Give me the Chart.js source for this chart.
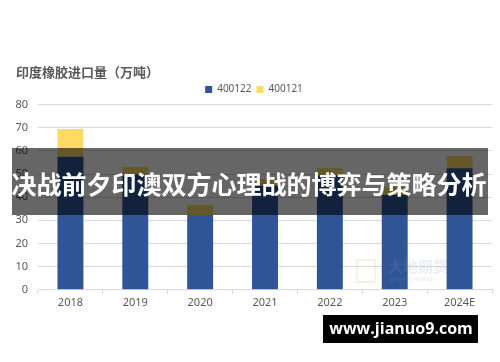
<!DOCTYPE html>
<html>
<head>
<meta charset="utf-8">
<script src="https://cdn.jsdelivr.net/npm/chart.js@4"></script>
<style>
    html, body { margin: 0; padding: 0; background: #fff; }
    #wrap { width: 500px; height: 362px; position: relative; }
</style>
</head>
<body>
<div id="wrap"><canvas id="importChart"></canvas></div>
<script>
/* DATA */
const years = ["2018", "2019", "2020", "2021", "2022", "2023", "2024E"];
const series400122 = [57.5, 50, 32.3, 45, 49.5, 41, 52.5];
const series400121 = [12, 3, 4.3, 3, 3, 3.5, 5.3];
const yTicks = [0, 10, 20, 30, 40, 50, 60, 70, 80];

const bannerText = "决战前夕印澳双方心理战的博弈与策略分析";
const siteText = "www.jianuo9.com";

Chart.defaults.font.family = "'Noto Sans', 'Noto Sans CJK SC', sans-serif";
Chart.defaults.color = "#595959";

/* OVERLAYS: faint logo, banner, site mark */
const overlays = {
    id: "overlays",
    afterDraw(chart) {
        const ctx = chart.ctx;
        ctx.save();

        // faint logo watermark
        ctx.globalAlpha = 0.18;
        ctx.fillStyle = "#8a9bb5";
        ctx.font = "bold 15px 'Noto Sans CJK SC'";
        ctx.textBaseline = "middle";
        ctx.fillText("大地期货", 388, 266);
        ctx.font = "bold 6px 'Noto Sans'";
        ctx.fillText("DADI FUTURES", 390, 279);
        ctx.strokeStyle = "#e0b050";
        ctx.lineWidth = 2;
        ctx.strokeRect(357, 260, 18, 22);
        ctx.globalAlpha = 1;

        // dark banner
        ctx.fillStyle = "rgba(0,0,0,0.6)";
        ctx.fillRect(12, 148, 476, 67);
        ctx.fillStyle = "#fff";
        ctx.font = "bold 25px 'Noto Sans CJK SC'";
        ctx.textAlign = "center";
        ctx.textBaseline = "middle";
        ctx.fillText(bannerText, 249, 184);

        // site mark
        ctx.fillStyle = "#000";
        ctx.fillRect(323, 315, 155, 28);
        ctx.fillStyle = "#fff";
        ctx.font = "bold 16px 'Open Sans'";
        ctx.fillText(siteText, 401, 329);

        ctx.restore();
    }
};

new Chart(document.getElementById("importChart"), {
    type: "bar",
    data: {
        labels: years,
        datasets: [{
            label: "400122",
            data: series400122,
            backgroundColor: "#2F5597"
        }, {
            label: "400121",
            data: series400121,
            backgroundColor: "#FFD966"
        }]
    },
    options: {
        responsive: true,
        maintainAspectRatio: false,
        animation: false,
        layout: {
            padding: { top: 64, left: 16, right: 8, bottom: 51 }
        },
        datasets: {
            bar: { categoryPercentage: 0.8, barPercentage: 0.5 }
        },
        scales: {
            x: {
                stacked: true,
                grid: { display: true, drawOnChartArea: false, offset: true, tickLength: 4, color: "#d9d9d9" },
                border: { color: "#d9d9d9" },
                ticks: { font: { size: 11 }, color: "#595959", padding: 2 }
            },
            y: {
                stacked: true,
                min: 0,
                max: 80,
                afterBuildTicks(axis) {
                    axis.ticks = yTicks.map(v => ({ value: v }));
                },
                afterFit(axis) {
                    axis.width = 22;
                },
                grid: { color: "#d9d9d9", drawTicks: false },
                border: { display: false },
                ticks: { font: { size: 11 }, color: "#595959", padding: 10 }
            }
        },
        plugins: {
            title: {
                display: true,
                text: "印度橡胶进口量（万吨）",
                align: "start",
                color: "#595959",
                font: { size: 13, weight: "bold", family: "'Noto Sans CJK SC'" },
                padding: { top: 0, bottom: 0 }
            },
            legend: {
                labels: {
                    boxWidth: 7,
                    boxHeight: 7,
                    font: { size: 10 },
                    color: "#595959",
                    padding: 5
                }
            },
            tooltip: { enabled: false }
        }
    },
    plugins: [overlays]
});
</script>
</body>
</html>
